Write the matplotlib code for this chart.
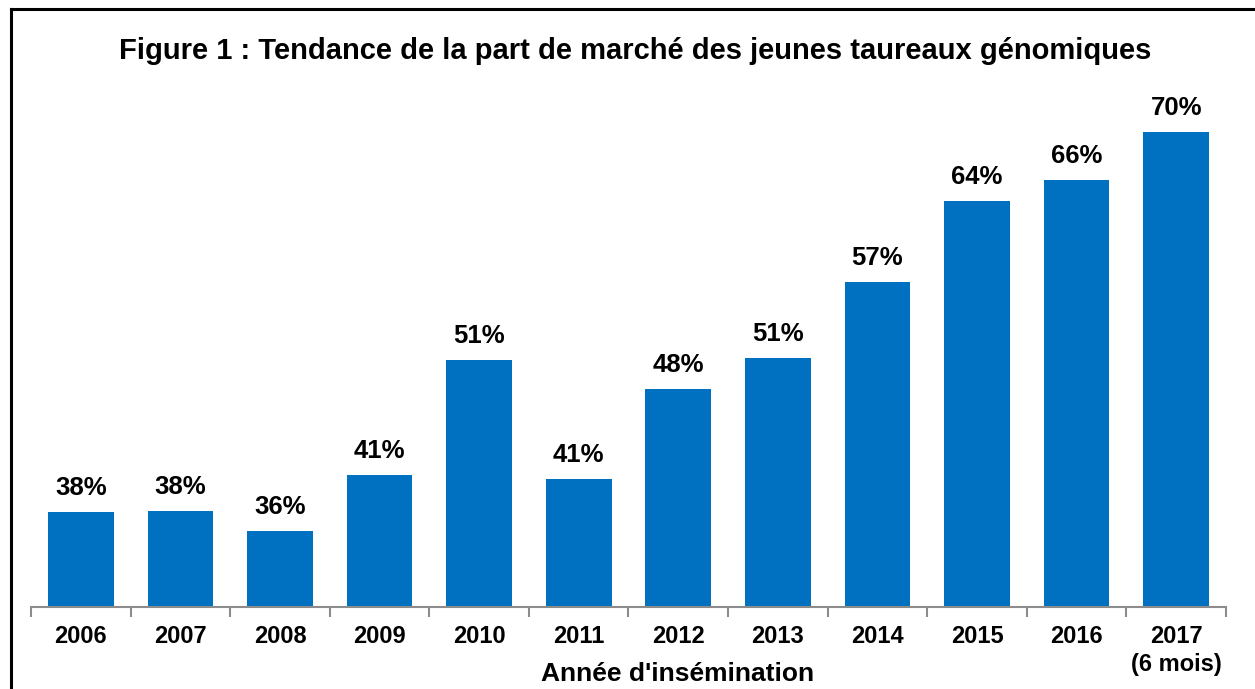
import matplotlib.pyplot as plt
from matplotlib.lines import Line2D

years = ["2006", "2007", "2008", "2009", "2010", "2011",
         "2012", "2013", "2014", "2015", "2016", "2017\n(6 mois)"]
share = [38.0, 38.1, 36.4, 41.1, 50.8, 40.8, 48.4, 51.0, 57.4, 64.2, 66.0, 70.0]
labels = ["38%", "38%", "36%", "41%", "51%", "41%",
          "48%", "51%", "57%", "64%", "66%", "70%"]

plt.rcParams["font.family"] = ["Liberation Sans", "DejaVu Sans"]
plt.rcParams["font.weight"] = "bold"

W, H = 1255, 689
fig = plt.figure(figsize=(W / 100, H / 100), dpi=100)

# axes placed in pixels: left 31, right 1226, baseline at y=607, top at y=100
ax = fig.add_axes([31 / W, (H - 607) / H, (1226 - 31) / W, (607 - 100) / H])

x = range(len(years))
ax.bar(x, share, width=0.66, color="#0070C0")
ax.set_xlim(-0.5, len(years) - 0.5)
ax.set_ylim(30, 30 + 507 / 11.875)

for xi, v, lab in zip(x, share, labels):
    ax.text(xi, v + 1.0, lab, ha="center", va="bottom",
            fontsize=18.5, fontweight="bold")

for side in ["top", "right", "left"]:
    ax.spines[side].set_visible(False)
ax.spines["bottom"].set_color("#8c8c8c")
ax.spines["bottom"].set_linewidth(1.5)
ax.set_yticks([])

ax.set_xticks([i - 0.5 for i in range(len(years) + 1)])
ax.set_xticklabels([])
ax.tick_params(axis="x", length=7, width=1.5, color="#8c8c8c")
ax.set_xticks(list(x), minor=True)
ax.set_xticklabels(years, minor=True, fontsize=17, fontweight="bold",
                   linespacing=1.25)
ax.tick_params(axis="x", which="minor", length=0, pad=13)

ax.set_xlabel("Année d'insémination", fontsize=19, fontweight="bold",
              labelpad=-9)
ax.xaxis.set_label_coords(0.541, -0.108)

fig.text(635 / W, 1 - 51 / H,
         "Figure 1 : Tendance de la part de marché des jeunes taureaux génomiques",
         ha="center", va="center", fontsize=21, fontweight="bold")

# frame around the chart (right and bottom edges fall outside the image)
fig.add_artist(Line2D([11 / W, 11 / W], [0, 1 - 9 / H], color="black",
                      linewidth=2.2, transform=fig.transFigure))
fig.add_artist(Line2D([11 / W, 1], [1 - 9 / H, 1 - 9 / H], color="black",
                      linewidth=2.2, transform=fig.transFigure))

fig.savefig("out.png", dpi=100)
